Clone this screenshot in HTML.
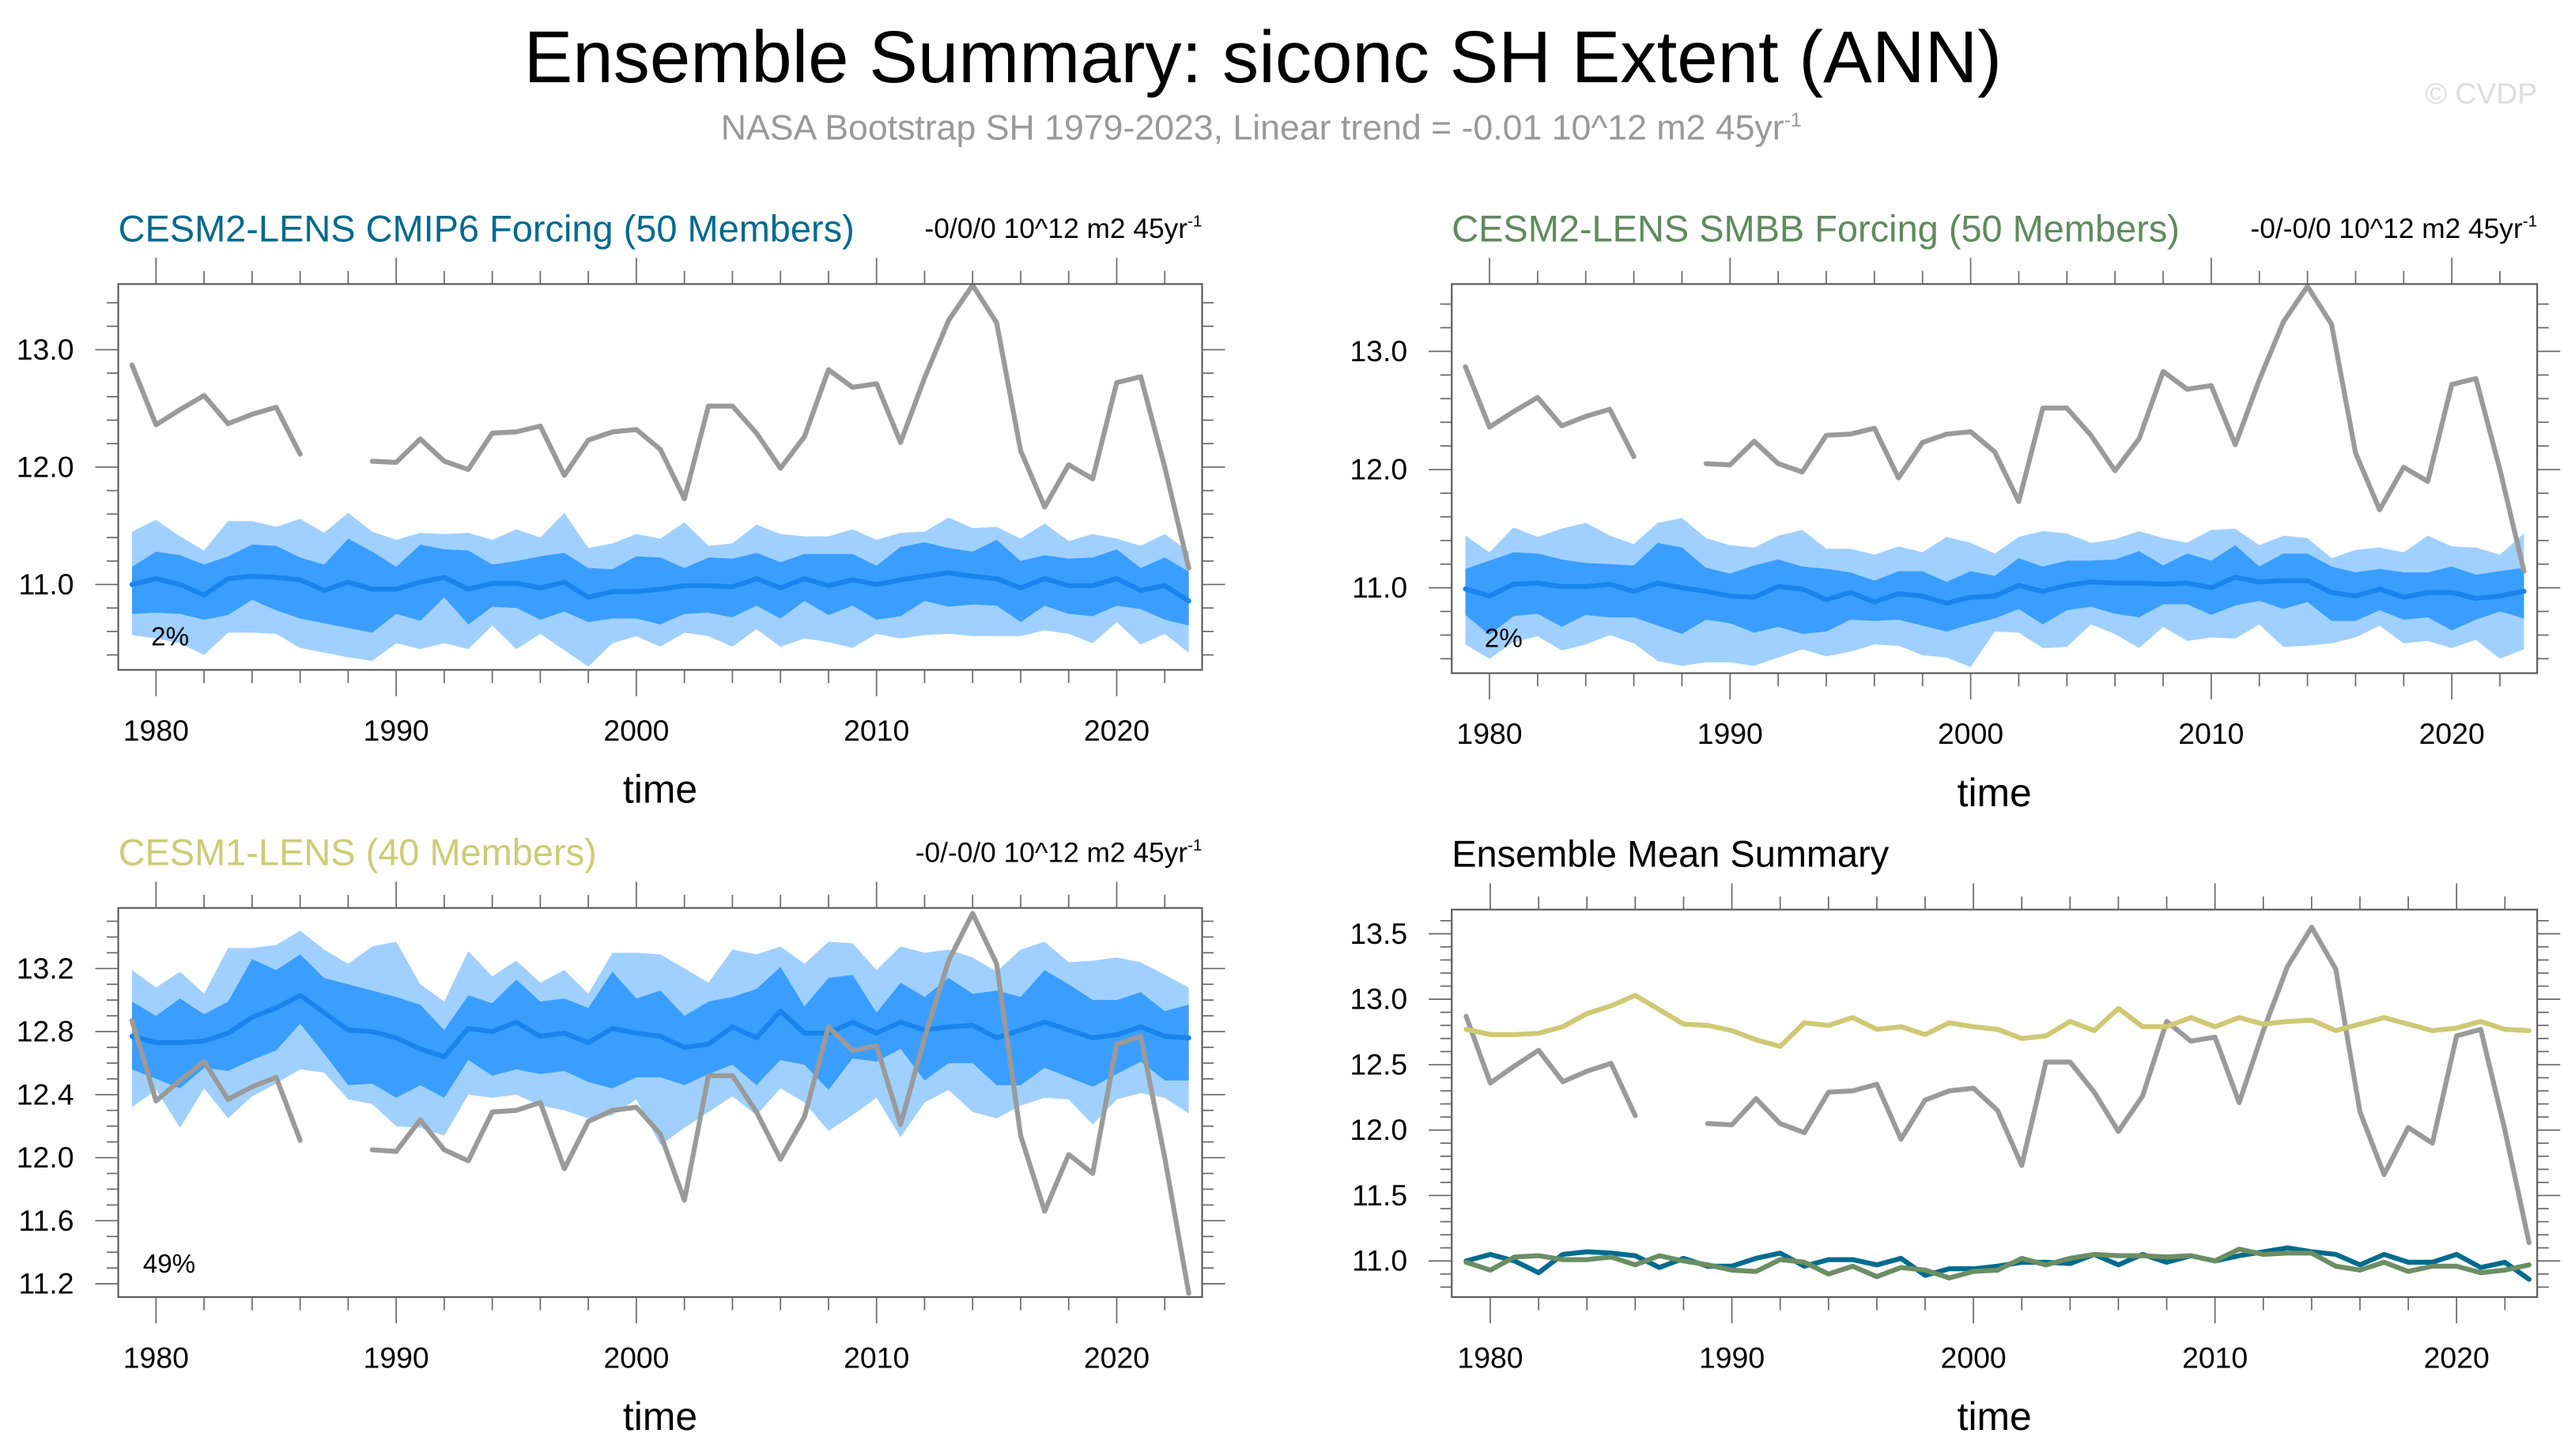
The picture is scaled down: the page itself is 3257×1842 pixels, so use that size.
<!DOCTYPE html>
<html><head><meta charset="utf-8"><title>Ensemble Summary</title>
<style>
html,body{margin:0;padding:0;background:#fff;}
svg{display:block;font-family:"Liberation Sans",Arial,sans-serif;}
</style></head>
<body>
<svg id="chart" xmlns="http://www.w3.org/2000/svg" width="3257" height="1842" viewBox="0 0 1568 886.8">
<rect x="0" y="0" width="1568" height="886.8" fill="#fff"/>
<text x="769" y="50" font-size="44.5" text-anchor="middle" fill="#000">Ensemble Summary: siconc SH Extent (ANN)</text>
<text x="768" y="85" font-size="21.5" text-anchor="middle" fill="#999">NASA Bootstrap SH 1979-2023, Linear trend = -0.01 10^12 m2 45yr<tspan dy="-8" font-size="12">-1</tspan></text>
<text x="1545" y="63" font-size="18" text-anchor="end" fill="#ddd">© CVDP</text>
<g id="panels"></g>
</svg>
<script>
const years = []; for (let y = 1979; y <= 2023; y++) years.push(y);
const obs = [12.87,12.36,12.49,12.61,12.37,12.45,12.51,12.11,null,null,12.05,12.04,12.24,12.05,11.98,12.29,12.30,12.35,11.93,12.23,12.30,12.32,12.15,11.73,12.52,12.52,12.29,11.99,12.26,12.83,12.68,12.71,12.21,12.76,13.25,13.55,13.23,12.14,11.66,12.02,11.90,12.72,12.77,12.00,11.14];

const cmip6Mean = [11.00,11.05,11.00,10.91,11.05,11.07,11.06,11.04,10.95,11.02,10.96,10.96,11.02,11.06,10.96,11.01,11.01,10.97,11.02,10.89,10.94,10.94,10.96,10.99,10.99,10.98,11.05,10.97,11.05,10.99,11.04,11.00,11.04,11.07,11.10,11.07,11.05,10.97,11.05,10.99,10.99,11.05,10.95,10.99,10.86];
const cmip6Hi1 = [11.15,11.28,11.25,11.17,11.24,11.34,11.33,11.23,11.17,11.39,11.28,11.15,11.34,11.30,11.29,11.17,11.20,11.24,11.27,11.14,11.13,11.24,11.23,11.14,11.23,11.22,11.27,11.19,11.26,11.26,11.26,11.16,11.32,11.36,11.31,11.28,11.38,11.20,11.25,11.22,11.23,11.30,11.14,11.23,11.11];
const cmip6Lo1 = [10.75,10.76,10.75,10.70,10.74,10.87,10.78,10.71,10.67,10.63,10.59,10.75,10.69,10.89,10.66,10.81,10.80,10.70,10.77,10.68,10.71,10.71,10.66,10.75,10.76,10.72,10.82,10.71,10.86,10.74,10.82,10.70,10.73,10.86,10.81,10.83,10.82,10.68,10.82,10.75,10.73,10.82,10.79,10.70,10.65];
const cmip6Hi2 = [11.45,11.55,11.41,11.29,11.54,11.54,11.49,11.56,11.44,11.61,11.45,11.38,11.44,11.43,11.44,11.38,11.47,11.40,11.61,11.31,11.35,11.43,11.39,11.53,11.33,11.35,11.51,11.43,11.41,11.41,11.47,11.38,11.44,11.45,11.57,11.48,11.49,11.39,11.52,11.37,11.43,11.39,11.33,11.43,11.28];
const cmip6Lo2 = [10.57,10.54,10.50,10.40,10.59,10.59,10.58,10.46,10.42,10.38,10.35,10.50,10.45,10.50,10.45,10.65,10.45,10.58,10.44,10.30,10.50,10.56,10.47,10.59,10.56,10.47,10.62,10.47,10.54,10.51,10.46,10.58,10.54,10.57,10.58,10.56,10.56,10.56,10.61,10.58,10.50,10.68,10.49,10.58,10.42];

const smbbMean = [10.99,10.93,11.03,11.04,11.01,11.01,11.03,10.97,11.04,11.00,10.97,10.93,10.92,11.01,10.99,10.90,10.96,10.88,10.95,10.93,10.87,10.92,10.93,11.02,10.97,11.02,11.05,11.04,11.04,11.03,11.04,11.00,11.09,11.05,11.06,11.06,10.96,10.93,10.99,10.92,10.96,10.96,10.91,10.93,10.97];
const smbbHi1 = [11.16,11.23,11.30,11.29,11.24,11.21,11.20,11.19,11.38,11.34,11.17,11.12,11.19,11.24,11.18,11.16,11.13,11.06,11.14,11.14,11.05,11.14,11.10,11.25,11.18,11.23,11.23,11.24,11.31,11.19,11.29,11.23,11.36,11.18,11.29,11.29,11.18,11.13,11.16,11.13,11.13,11.18,11.11,11.14,11.17];
const smbbLo1 = [10.77,10.60,10.76,10.78,10.67,10.77,10.75,10.75,10.68,10.61,10.73,10.70,10.62,10.67,10.61,10.63,10.73,10.72,10.73,10.68,10.63,10.69,10.74,10.82,10.69,10.81,10.84,10.78,10.75,10.86,10.86,10.77,10.85,10.89,10.82,10.88,10.72,10.72,10.81,10.73,10.75,10.64,10.73,10.80,10.74];
const smbbHi2 = [11.44,11.30,11.51,11.43,11.50,11.55,11.44,11.37,11.55,11.59,11.42,11.36,11.34,11.44,11.49,11.33,11.33,11.28,11.35,11.30,11.43,11.38,11.29,11.43,11.48,11.46,11.38,11.41,11.48,11.42,11.38,11.49,11.50,11.36,11.44,11.42,11.25,11.32,11.34,11.30,11.44,11.35,11.34,11.28,11.46];
const smbbLo2 = [10.52,10.40,10.54,10.59,10.47,10.52,10.60,10.53,10.38,10.34,10.37,10.37,10.34,10.41,10.48,10.42,10.46,10.52,10.51,10.43,10.41,10.33,10.63,10.62,10.49,10.50,10.69,10.61,10.49,10.67,10.55,10.58,10.57,10.69,10.50,10.51,10.53,10.58,10.68,10.53,10.55,10.49,10.56,10.40,10.48];

const cesm1Mean = [12.77,12.73,12.73,12.74,12.79,12.89,12.95,13.03,12.92,12.81,12.80,12.76,12.69,12.64,12.82,12.80,12.86,12.77,12.79,12.73,12.82,12.79,12.77,12.70,12.72,12.83,12.76,12.93,12.79,12.79,12.86,12.79,12.86,12.81,12.83,12.84,12.76,12.81,12.86,12.81,12.76,12.78,12.83,12.77,12.76];
const cesm1Hi1 = [12.99,12.90,13.01,12.91,12.99,13.26,13.19,13.29,13.14,13.10,13.06,13.02,12.97,12.81,13.03,12.98,13.13,12.99,13.01,12.95,13.18,13.01,13.06,12.90,12.99,13.02,13.07,13.21,12.96,13.14,13.16,12.92,13.11,13.02,13.14,13.04,13.06,13.02,13.19,13.10,13.00,13.00,13.05,12.93,12.97];
const cesm1Lo1 = [12.56,12.50,12.44,12.57,12.55,12.62,12.68,12.85,12.66,12.46,12.47,12.38,12.46,12.38,12.62,12.52,12.56,12.53,12.55,12.48,12.44,12.51,12.51,12.46,12.53,12.59,12.46,12.62,12.59,12.43,12.63,12.61,12.69,12.49,12.60,12.60,12.46,12.46,12.57,12.51,12.45,12.53,12.61,12.49,12.49];
const cesm1Hi2 = [13.19,13.08,13.18,13.04,13.33,13.33,13.35,13.44,13.32,13.23,13.34,13.37,13.10,12.99,13.31,13.15,13.25,13.11,13.19,13.04,13.30,13.30,13.29,13.20,13.11,13.32,13.29,13.34,13.23,13.37,13.36,13.19,13.34,13.30,13.32,13.27,13.18,13.32,13.37,13.24,13.25,13.27,13.24,13.16,13.08];
const cesm1Lo2 = [12.32,12.43,12.19,12.44,12.25,12.39,12.47,12.56,12.54,12.37,12.34,12.20,12.19,12.14,12.40,12.38,12.40,12.33,12.30,12.25,12.27,12.37,12.08,12.19,12.29,12.39,12.27,12.44,12.35,12.17,12.27,12.38,12.13,12.35,12.43,12.29,12.25,12.33,12.38,12.37,12.21,12.37,12.41,12.38,12.28];

const xTickYears = [1980,1990,2000,2010,2020];
const NS = "http://www.w3.org/2000/svg";
const root = document.getElementById('panels');
function mk(tag, attrs, parent){const e=document.createElementNS(NS,tag);for(const k in attrs)e.setAttribute(k,attrs[k]);(parent||root).appendChild(e);return e;}

function panel(cfg){
  const g = mk('g',{});
  
  
  const X = yr => cfg.x1980 + (yr-1980)*cfg.perYear;
  const Y = v => cfg.yRef - (v-cfg.vRef)*cfg.perUnit;
  const clip = 'clip-'+cfg.name;
  const cp = mk('clipPath',{id:clip},g); mk('rect',{x:cfg.bx0,y:cfg.by0,width:cfg.bx1-cfg.bx0,height:cfg.by1-cfg.by0},cp);
  const plot = mk('g',{'clip-path':'url(#'+clip+')'},g);
  function band(hi,lo,color,nm){
    let d='';
    years.forEach((yr,i)=>{d+=(i?'L':'M')+X(yr).toFixed(2)+','+Y(hi[i]).toFixed(2);});
    for(let i=years.length-1;i>=0;i--) d+='L'+X(years[i]).toFixed(2)+','+Y(lo[i]).toFixed(2);
    const p = mk('path',{d:d+'Z',fill:color},plot);
    
    
  }
  function line(vals,color,w,nm){
    let d='',pen=false;
    years.forEach((yr,i)=>{const v=vals[i]; if(v==null){pen=false;return;} d+=(pen?'L':'M')+X(yr).toFixed(2)+','+Y(v).toFixed(2); pen=true;});
    const p = mk('path',{d:d,fill:'none',stroke:color,'stroke-width':w,'stroke-linejoin':'round','stroke-linecap':'round'},plot);
    
    
  }
  if(cfg.bands){
    band(cfg.bands.hi2,cfg.bands.lo2,'#a0d0ff','outer-spread-band');
    band(cfg.bands.hi1,cfg.bands.lo1,'#3a9eff','inner-spread-band');
    line(cfg.bands.mean,'#1a84ec',3,'ensemble-mean-line');
  }
  (cfg.lines||[]).forEach(l=>line(l.vals,l.color,l.w,l.name));
  const box = mk('rect',{x:cfg.bx0,y:cfg.by0,width:cfg.bx1-cfg.bx0,height:cfg.by1-cfg.by0,fill:'none',stroke:'#555','stroke-width':1},g);
  
  
  for(let yr=1978; yr<=2024; yr+=2){
    const x=X(yr); if(x<cfg.bx0||x>cfg.bx1) continue;
    const maj = yr%10===0, L = maj?16:8;
    mk('line',{x1:x,y1:cfg.by0,x2:x,y2:cfg.by0-L,stroke:'#666','stroke-width':0.8},g);
    mk('line',{x1:x,y1:cfg.by1,x2:x,y2:cfg.by1+L,stroke:'#666','stroke-width':0.8},g);
  }
  xTickYears.forEach(yr=>{
    const t = mk('text',{x:X(yr),y:cfg.by1+43,'font-size':18,'text-anchor':'middle',fill:'#000'},g);
    t.textContent = yr;
    
    
  });
  const xt = mk('text',{x:(cfg.bx0+cfg.bx1)/2,y:cfg.by1+81,'font-size':24,'text-anchor':'middle',fill:'#000'},g);
  xt.textContent='time';
  
  
  const nMin = Math.round((cfg.yMax-cfg.yMin)/cfg.minor);
  for(let k=0;k<=nMin;k++){
    const v = cfg.yMin + k*cfg.minor, y=Y(v);
    if(y<cfg.by0-0.5||y>cfg.by1+0.5) continue;
    const maj = Math.abs(v/cfg.major - Math.round(v/cfg.major))<1e-6, L = maj?14:7;
    mk('line',{x1:cfg.bx0,y1:y,x2:cfg.bx0-L,y2:y,stroke:'#666','stroke-width':0.8},g);
    mk('line',{x1:cfg.bx1,y1:y,x2:cfg.bx1+L,y2:y,stroke:'#666','stroke-width':0.8},g);
    if(maj){
      const t = mk('text',{x:cfg.bx0-27,y:y+6,'font-size':18,'text-anchor':'end',fill:'#000'},g);
      t.textContent = v.toFixed(1);
      
      
    }
  }
  const tt = mk('text',{x:cfg.bx0,y:cfg.by0-26,'font-size':22.6,fill:cfg.titleColor},g);
  tt.textContent = cfg.title;
  
  
  if(cfg.trend){
    const tr = mk('text',{x:cfg.bx1,y:cfg.by0-28,'font-size':17,'text-anchor':'end',fill:'#000'},g);
    tr.innerHTML = cfg.trend+'<tspan dy="-7" font-size="10">-1</tspan>';
    
    
  }
  if(cfg.pct){
    const pt = mk('text',{x:cfg.pctX,y:cfg.pctY,'font-size':16,fill:'#000'},g);
    pt.textContent = cfg.pct;
    
    
  }
}

const obsLine = {vals:obs,color:'#9a9a9a',w:3,name:'observations-line'};
panel({name:'panel-cesm2-cmip6',bx0:72,bx1:732,by0:173,by1:408,x1980:95,perYear:14.625,yRef:356,vRef:11,perUnit:71.5,yMin:10.2,yMax:13.6,minor:0.2,major:1,
  title:'CESM2-LENS CMIP6 Forcing (50 Members)',titleColor:'#00698f',trend:'-0/0/0 10^12 m2 45yr',pct:'2%',pctX:92,pctY:393,
  bands:{mean:cmip6Mean,hi1:cmip6Hi1,lo1:cmip6Lo1,hi2:cmip6Hi2,lo2:cmip6Lo2},lines:[obsLine]});
panel({name:'panel-cesm2-smbb',bx0:884,bx1:1545,by0:173,by1:410,x1980:907,perYear:14.65,yRef:358,vRef:11,perUnit:72,yMin:10.2,yMax:13.6,minor:0.2,major:1,
  title:'CESM2-LENS SMBB Forcing (50 Members)',titleColor:'#5f8a5e',trend:'-0/-0/0 10^12 m2 45yr',pct:'2%',pctX:904,pctY:394,
  bands:{mean:smbbMean,hi1:smbbHi1,lo1:smbbLo1,hi2:smbbHi2,lo2:smbbLo2},lines:[obsLine]});
panel({name:'panel-cesm1',bx0:72,bx1:732,by0:553,by1:790,x1980:95,perYear:14.625,yRef:628.3,vRef:12.8,perUnit:96,yMin:11.0,yMax:13.6,minor:0.1,major:0.4,
  title:'CESM1-LENS (40 Members)',titleColor:'#cccc77',trend:'-0/-0/0 10^12 m2 45yr',pct:'49%',pctX:87,pctY:775,
  bands:{mean:cesm1Mean,hi1:cesm1Hi1,lo1:cesm1Lo1,hi2:cesm1Hi2,lo2:cesm1Lo2},lines:[obsLine]});
panel({name:'panel-ensemble-mean-summary',bx0:884,bx1:1545,by0:554,by1:790,x1980:907.5,perYear:14.71,yRef:768,vRef:11,perUnit:79.7,yMin:10.7,yMax:13.7,minor:0.1,major:0.5,
  title:'Ensemble Mean Summary',titleColor:'#000',
  lines:[obsLine,
    {vals:cesm1Mean,color:'#cfc874',w:3,name:'cesm1-mean-line'},
    {vals:cmip6Mean,color:'#006b8f',w:3,name:'cmip6-mean-line'},
    {vals:smbbMean,color:'#6b8e63',w:3,name:'smbb-mean-line'}]});
</script>
</body></html>
